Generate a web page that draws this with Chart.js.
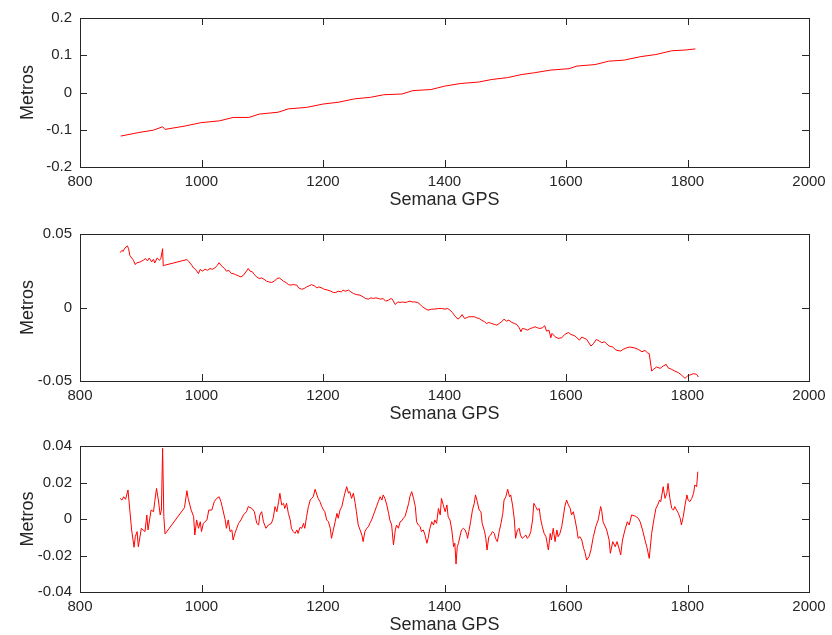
<!DOCTYPE html>
<html>
<head>
<meta charset="utf-8">
<script src="https://cdn.jsdelivr.net/npm/chart.js@4"></script>
<style>
  html, body { margin: 0; padding: 0; background: #fff; overflow: hidden; }
  body { width: 832px; height: 635px; position: relative; }
  canvas { position: absolute; left: 0; }
</style>
</head>
<body>
<canvas id="g1" width="832" height="212" style="top:0px"></canvas>
<canvas id="g2" width="832" height="210" style="top:216px"></canvas>
<canvas id="g3" width="832" height="209" style="top:428px"></canvas>
<script>
// eixo x comum (semana GPS)
const ticksSemana = [800, 1000, 1200, 1400, 1600, 1800, 2000];

// ticks de cada painel
const ticks1 = [-0.2, -0.1, 0, 0.1, 0.2];
const ticks2 = [-0.05, 0, 0.05];
const ticks3 = [-0.04, -0.02, 0, 0.02, 0.04];

// painel 1 [semana, metros]
const serie1 = [
  [867, -0.117], [895, -0.108], [921, -0.101], [936, -0.092], [940, -0.099],
  [973, -0.090], [999, -0.081], [1030, -0.076], [1052, -0.067], [1078, -0.067],
  [1095, -0.058], [1126, -0.053], [1143, -0.044], [1173, -0.040], [1200, -0.031],
  [1226, -0.026], [1252, -0.017], [1278, -0.013], [1300, -0.006], [1330, -0.004],
  [1348, 0.005], [1378, 0.008], [1400, 0.017], [1426, 0.024], [1456, 0.028],
  [1478, 0.035], [1504, 0.040], [1526, 0.048], [1548, 0.053], [1574, 0.060],
  [1605, 0.064], [1618, 0.071], [1648, 0.075], [1670, 0.084], [1696, 0.087],
  [1722, 0.096], [1748, 0.102], [1774, 0.112], [1796, 0.114], [1813, 0.117]
];

// painel 2 [semana, metros]
const serie2 = [
  [866, 0.0373], [869, 0.0389], [871, 0.0382], [874, 0.0405], [878, 0.0419],
  [880, 0.0400], [882, 0.0355], [885, 0.0337], [888, 0.0321], [891, 0.0292],
  [893, 0.0303], [899, 0.0310], [904, 0.0321], [908, 0.0333], [911, 0.0317],
  [914, 0.0337], [918, 0.0310], [921, 0.0328], [923, 0.0303], [927, 0.0337],
  [931, 0.0321], [933, 0.0333], [936, 0.0400], [937, 0.0283], [939, 0.0287],
  [976, 0.0326], [979, 0.0314], [984, 0.0287], [987, 0.0269], [990, 0.0260],
  [995, 0.0231], [998, 0.0260], [1001, 0.0247], [1006, 0.0260], [1010, 0.0253],
  [1014, 0.0265], [1018, 0.0260], [1022, 0.0269], [1026, 0.0287], [1029, 0.0305],
  [1032, 0.0287], [1035, 0.0276], [1038, 0.0265], [1041, 0.0247], [1045, 0.0253],
  [1049, 0.0231], [1052, 0.0231], [1056, 0.0224], [1061, 0.0215], [1065, 0.0208],
  [1069, 0.0219], [1073, 0.0242], [1077, 0.0265], [1080, 0.0247], [1084, 0.0242],
  [1087, 0.0224], [1091, 0.0208], [1095, 0.0197], [1099, 0.0201], [1103, 0.0192],
  [1107, 0.0179], [1111, 0.0174], [1115, 0.0170], [1120, 0.0179], [1124, 0.0197],
  [1128, 0.0201], [1131, 0.0192], [1135, 0.0179], [1139, 0.0170], [1143, 0.0156],
  [1147, 0.0152], [1151, 0.0156], [1157, 0.0152], [1160, 0.0133], [1165, 0.0124],
  [1169, 0.0129], [1173, 0.0140], [1177, 0.0147], [1181, 0.0156], [1186, 0.0147],
  [1190, 0.0133], [1193, 0.0140], [1198, 0.0133], [1202, 0.0124], [1208, 0.0118],
  [1213, 0.0111], [1217, 0.0102], [1221, 0.0102], [1225, 0.0111], [1230, 0.0106],
  [1233, 0.0118], [1237, 0.0111], [1242, 0.0118], [1246, 0.0106], [1250, 0.0095],
  [1255, 0.0088], [1261, 0.0084], [1266, 0.0072], [1270, 0.0061], [1275, 0.0057],
  [1279, 0.0066], [1283, 0.0061], [1287, 0.0066], [1291, 0.0061], [1295, 0.0057],
  [1299, 0.0061], [1303, 0.0043], [1308, 0.0050], [1312, 0.0061], [1314, 0.0057],
  [1319, 0.0020], [1323, 0.0038], [1327, 0.0034], [1331, 0.0038], [1335, 0.0034],
  [1339, 0.0038], [1343, 0.0043], [1347, 0.0038], [1351, 0.0038], [1356, 0.0034],
  [1360, 0.0020], [1364, 0.0005], [1368, -0.0007], [1373, -0.0018], [1379, -0.0011],
  [1384, -0.0011], [1390, -0.0007], [1395, -0.0007], [1401, -0.0011], [1405, -0.0007],
  [1409, -0.0018], [1413, -0.0034], [1417, -0.0057], [1422, -0.0079], [1425, -0.0070],
  [1429, -0.0048], [1433, -0.0075], [1436, -0.0070], [1440, -0.0063], [1445, -0.0063],
  [1449, -0.0063], [1453, -0.0070], [1457, -0.0075], [1461, -0.0086], [1466, -0.0097],
  [1469, -0.0109], [1473, -0.0102], [1478, -0.0109], [1482, -0.0115], [1486, -0.0120],
  [1490, -0.0109], [1494, -0.0097], [1498, -0.0079], [1502, -0.0093], [1506, -0.0086],
  [1511, -0.0102], [1515, -0.0109], [1519, -0.0115], [1523, -0.0138], [1526, -0.0165],
  [1528, -0.0143], [1533, -0.0147], [1537, -0.0154], [1541, -0.0143], [1545, -0.0138],
  [1549, -0.0131], [1553, -0.0138], [1557, -0.0143], [1561, -0.0138], [1565, -0.0124],
  [1568, -0.0161], [1572, -0.0154], [1575, -0.0206], [1577, -0.0176], [1582, -0.0199],
  [1587, -0.0210], [1593, -0.0206], [1598, -0.0183], [1604, -0.0170], [1608, -0.0183],
  [1614, -0.0192], [1618, -0.0206], [1622, -0.0222], [1626, -0.0201], [1634, -0.0217],
  [1641, -0.0262], [1645, -0.0247], [1650, -0.0217], [1655, -0.0229], [1659, -0.0240],
  [1663, -0.0233], [1667, -0.0247], [1671, -0.0262], [1677, -0.0269], [1681, -0.0285],
  [1684, -0.0292], [1690, -0.0296], [1694, -0.0285], [1700, -0.0274], [1705, -0.0269],
  [1712, -0.0274], [1719, -0.0285], [1725, -0.0301], [1730, -0.0292], [1734, -0.0308],
  [1737, -0.0314], [1741, -0.0432], [1744, -0.0421], [1749, -0.0405], [1755, -0.0414],
  [1760, -0.0398], [1765, -0.0387], [1768, -0.0410], [1774, -0.0421], [1779, -0.0432],
  [1785, -0.0443], [1790, -0.0459], [1796, -0.0482], [1800, -0.0466], [1804, -0.0459],
  [1810, -0.0450], [1815, -0.0455], [1818, -0.0473]
];

// painel 3 [semana, metros]
const serie3 = [
  [866, 0.0113], [869, 0.0104], [872, 0.0122], [875, 0.0108], [879, 0.0159],
  [882, 0.0049], [885, -0.0060], [889, -0.0155], [891, -0.0097], [894, -0.0069],
  [896, -0.0152], [901, -0.0051], [907, -0.0069], [910, 0.0022], [912, -0.0060],
  [917, 0.0049], [921, 0.0040], [923, 0.0095], [926, 0.0168], [929, 0.0104],
  [932, 0.0022], [934, 0.0049], [936, 0.0387], [938, 0.0013], [940, -0.0082],
  [972, 0.0062], [976, 0.0155], [978, 0.0113], [983, 0.0049], [987, 0.0013],
  [989, -0.0088], [992, -0.0005], [995, -0.0051], [998, -0.0015], [1000, -0.0069],
  [1003, -0.0024], [1009, -0.0005], [1012, 0.0049], [1017, 0.0049], [1021, 0.0095],
  [1025, 0.0113], [1029, 0.0122], [1032, 0.0095], [1034, 0.0068], [1039, -0.0005],
  [1041, -0.0051], [1044, -0.0005], [1047, -0.0069], [1050, -0.0060], [1052, -0.0115],
  [1055, -0.0079], [1058, -0.0051], [1061, -0.0024], [1065, -0.0005], [1069, 0.0022],
  [1074, 0.0040], [1077, 0.0068], [1083, 0.0058], [1087, 0.0040], [1091, -0.0024],
  [1094, -0.0033], [1096, 0.0022], [1099, 0.0040], [1102, -0.0015], [1106, -0.0051],
  [1110, -0.0033], [1115, -0.0024], [1118, 0.0004], [1121, 0.0068], [1124, 0.0040],
  [1127, 0.0095], [1129, 0.0141], [1132, 0.0077], [1135, 0.0086], [1137, 0.0058],
  [1140, 0.0086], [1143, 0.0031], [1146, -0.0005], [1148, -0.0051], [1151, -0.0069],
  [1154, -0.0079], [1157, -0.0060], [1159, -0.0079], [1162, -0.0046], [1165, -0.0051],
  [1168, -0.0024], [1170, -0.0051], [1173, 0.0013], [1176, 0.0068], [1179, 0.0104],
  [1181, 0.0113], [1184, 0.0122], [1187, 0.0163], [1190, 0.0132], [1192, 0.0113],
  [1195, 0.0095], [1198, 0.0068], [1201, 0.0049], [1203, 0.0040], [1206, -0.0005],
  [1209, -0.0015], [1212, -0.0051], [1214, -0.0106], [1217, -0.0060], [1220, -0.0015],
  [1223, 0.0031], [1225, 0.0004], [1228, 0.0049], [1231, 0.0068], [1234, 0.0113],
  [1236, 0.0141], [1239, 0.0177], [1242, 0.0141], [1244, 0.0150], [1247, 0.0113],
  [1250, 0.0141], [1253, 0.0086], [1255, 0.0040], [1258, -0.0033], [1261, -0.0060],
  [1264, -0.0088], [1266, -0.0124], [1269, -0.0069], [1272, -0.0051], [1275, -0.0042],
  [1277, -0.0024], [1280, -0.0005], [1283, 0.0022], [1286, 0.0049], [1288, 0.0068],
  [1291, 0.0095], [1294, 0.0122], [1297, 0.0104], [1299, 0.0132], [1302, 0.0113],
  [1305, 0.0077], [1308, 0.0031], [1310, -0.0005], [1313, -0.0033], [1316, -0.0142],
  [1319, -0.0060], [1321, -0.0033], [1324, -0.0051], [1327, -0.0015], [1330, -0.0009],
  [1332, 0.0004], [1335, 0.0013], [1338, 0.0049], [1341, 0.0086], [1343, 0.0122],
  [1346, 0.0150], [1349, 0.0113], [1352, 0.0068], [1354, -0.0015], [1357, -0.0033],
  [1360, -0.0042], [1362, -0.0069], [1365, -0.0060], [1368, -0.0088], [1371, -0.0133],
  [1373, -0.0106], [1376, -0.0051], [1379, -0.0015], [1382, -0.0033], [1384, -0.0005],
  [1387, -0.0024], [1390, 0.0058], [1393, 0.0022], [1395, 0.0113], [1398, 0.0077],
  [1401, 0.0040], [1404, 0.0077], [1406, 0.0013], [1409, -0.0005], [1412, -0.0060],
  [1415, -0.0152], [1417, -0.0133], [1419, -0.0247], [1421, -0.0152], [1423, -0.0133],
  [1426, -0.0088], [1428, -0.0060], [1431, -0.0051], [1434, -0.0060], [1437, -0.0088],
  [1438, -0.0106], [1440, -0.0069], [1443, -0.0015], [1446, 0.0049], [1449, 0.0086],
  [1451, 0.0132], [1454, 0.0095], [1457, 0.0049], [1460, 0.0040], [1462, -0.0024],
  [1466, -0.0069], [1468, -0.0106], [1470, -0.0170], [1473, -0.0097], [1476, -0.0088],
  [1479, -0.0069], [1482, -0.0079], [1484, -0.0106], [1487, -0.0124], [1490, -0.0069],
  [1493, -0.0024], [1496, 0.0031], [1498, 0.0104], [1501, 0.0122], [1504, 0.0163],
  [1507, 0.0122], [1509, 0.0132], [1512, 0.0077], [1515, -0.0005], [1517, -0.0106],
  [1520, -0.0060], [1523, -0.0051], [1525, -0.0088], [1528, -0.0106], [1531, -0.0097],
  [1534, -0.0088], [1536, -0.0106], [1539, -0.0097], [1542, -0.0069], [1545, -0.0005],
  [1547, 0.0086], [1550, 0.0068], [1553, 0.0049], [1556, 0.0058], [1558, 0.0004],
  [1561, -0.0042], [1564, -0.0079], [1567, -0.0097], [1569, -0.0133], [1571, -0.0170],
  [1574, -0.0079], [1576, -0.0115], [1579, -0.0051], [1582, -0.0124], [1585, -0.0060],
  [1587, -0.0097], [1590, -0.0079], [1593, -0.0042], [1596, 0.0022], [1598, 0.0068],
  [1601, 0.0104], [1604, 0.0077], [1607, 0.0058], [1609, 0.0022], [1612, 0.0040],
  [1615, -0.0005], [1618, -0.0060], [1620, -0.0106], [1623, -0.0097], [1626, -0.0115],
  [1629, -0.0161], [1631, -0.0179], [1634, -0.0225], [1638, -0.0206], [1641, -0.0170],
  [1645, -0.0097], [1649, -0.0042], [1653, -0.0005], [1657, 0.0068], [1659, 0.0040],
  [1661, -0.0015], [1667, -0.0060], [1671, -0.0115], [1673, -0.0188], [1677, -0.0124],
  [1681, -0.0152], [1684, -0.0124], [1688, -0.0170], [1690, -0.0197], [1693, -0.0115],
  [1697, -0.0060], [1701, -0.0015], [1704, -0.0033], [1708, 0.0022], [1714, 0.0016],
  [1719, 0.0004], [1722, -0.0015], [1726, -0.0060], [1730, -0.0115], [1733, -0.0152],
  [1737, -0.0216], [1741, -0.0079], [1745, 0.0004], [1748, 0.0058], [1751, 0.0077],
  [1754, 0.0104], [1756, 0.0095], [1760, 0.0177], [1763, 0.0113], [1766, 0.0141],
  [1768, 0.0195], [1771, 0.0113], [1774, 0.0058], [1777, 0.0049], [1779, 0.0068],
  [1782, 0.0049], [1785, 0.0031], [1788, 0.0004], [1790, -0.0033], [1793, 0.0013],
  [1796, 0.0077], [1799, 0.0132], [1801, 0.0104], [1804, 0.0095], [1807, 0.0113],
  [1810, 0.0141], [1812, 0.0186], [1815, 0.0177], [1817, 0.0259]
];

const fonte = '"Liberation Sans", Arial, Helvetica, sans-serif';
const corEixo = '#262626';

// caixa estilo matlab com ticks para dentro
const caixa = {
  id: 'caixa',
  afterDraw(chart) {
    const { ctx, chartArea: a, scales: { x, y } } = chart;
    const tam = 7;
    ctx.save();
    ctx.strokeStyle = corEixo;
    ctx.lineWidth = 1;
    ctx.strokeRect(Math.round(a.left) + 0.5, Math.round(a.top) + 0.5,
      Math.round(a.right - a.left), Math.round(a.bottom - a.top));
    ctx.beginPath();
    x.ticks.forEach(t => {
      const px = Math.round(x.getPixelForValue(t.value)) + 0.5;
      ctx.moveTo(px, a.bottom); ctx.lineTo(px, a.bottom - tam);
      ctx.moveTo(px, a.top); ctx.lineTo(px, a.top + tam);
    });
    y.ticks.forEach(t => {
      const py = Math.round(y.getPixelForValue(t.value)) + 0.5;
      ctx.moveTo(a.left, py); ctx.lineTo(a.left + tam, py);
      ctx.moveTo(a.right, py); ctx.lineTo(a.right - tam, py);
    });
    ctx.stroke();
    ctx.restore();
  }
};

function criarGrafico(id, serie, ticksY) {
  const yMin = ticksY[0];
  const yMax = ticksY[ticksY.length - 1];
  return new Chart(document.getElementById(id), {
    type: 'line',
    data: {
      datasets: [{
        data: serie.map(([s, m]) => ({ x: s, y: m })),
        borderColor: '#ff0000',
        borderWidth: 1,
        pointRadius: 0,
        tension: 0,
        fill: false
      }]
    },
    options: {
      responsive: false,
      animation: false,
      layout: { padding: { top: 18, right: 23, left: 0, bottom: 0 } },
      plugins: { legend: { display: false }, tooltip: { enabled: false } },
      scales: {
        x: {
          type: 'linear',
          min: 800,
          max: 2000,
          afterBuildTicks: s => { s.ticks = ticksSemana.map(v => ({ value: v })); },
          afterFit: s => { s.height = 45; },
          grid: { display: false, drawTicks: false },
          border: { display: false },
          ticks: {
            padding: 6,
            color: corEixo,
            font: { family: fonte, size: 15 },
            maxRotation: 0,
            callback: v => String(v)
          },
          title: {
            display: true,
            text: 'Semana GPS',
            color: corEixo,
            font: { family: fonte, size: 18 },
            padding: { top: 0, bottom: 1 }
          }
        },
        y: {
          type: 'linear',
          min: yMin,
          max: yMax,
          afterBuildTicks: s => { s.ticks = ticksY.map(v => ({ value: v })); },
          afterFit: s => { s.width = 80; },
          grid: { display: false, drawTicks: false },
          border: { display: false },
          ticks: {
            padding: 8,
            color: corEixo,
            font: { family: fonte, size: 15 },
            callback: v => String(Math.round(v * 1000) / 1000)
          },
          title: {
            display: true,
            text: 'Metros',
            color: corEixo,
            font: { family: fonte, size: 18 },
            padding: { top: 17, bottom: 0 }
          }
        }
      }
    },
    plugins: [caixa]
  });
}

criarGrafico('g1', serie1, ticks1);
criarGrafico('g2', serie2, ticks2);
criarGrafico('g3', serie3, ticks3);
</script>
</body>
</html>
